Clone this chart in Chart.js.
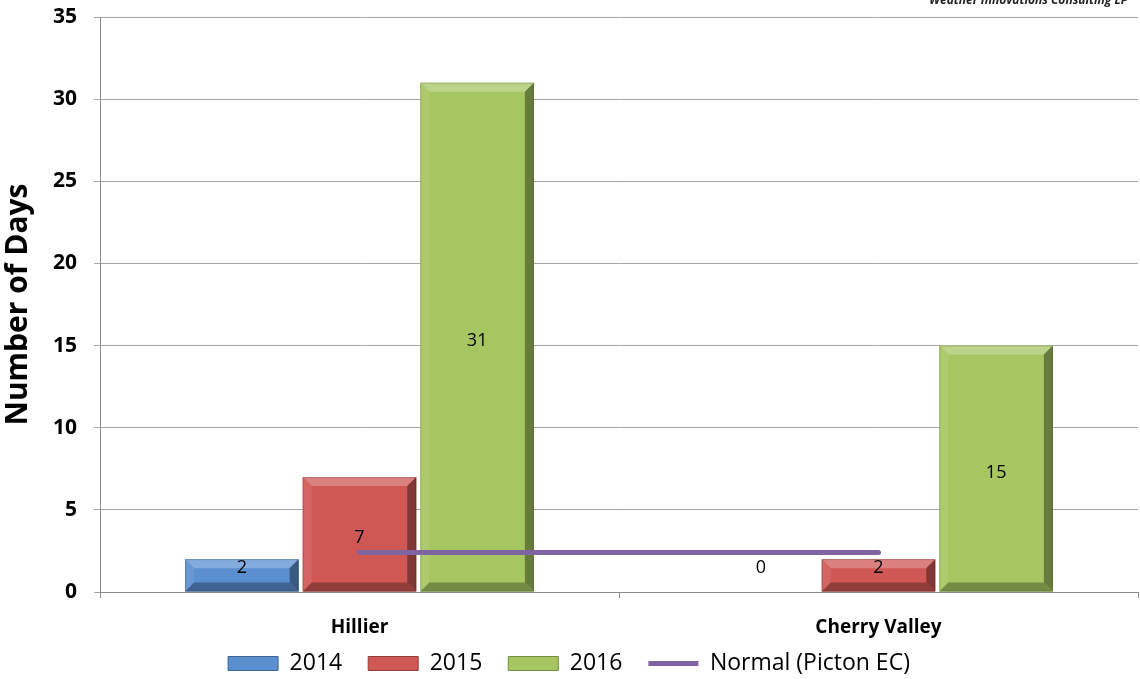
<!DOCTYPE html>
<html>
<head>
<meta charset="utf-8">
<script src="https://cdn.jsdelivr.net/npm/chart.js@4.4.0/dist/chart.umd.min.js"></script>
<style>
  html,body{margin:0;padding:0;background:#fff;}
  #wrap{width:1140px;height:679px;}
</style>
</head>
<body>
<div id="wrap"><canvas id="chart" width="1140" height="679"></canvas></div>
<script>
// data
const stations = ['Hillier', 'Cherry Valley'];
const days2014 = [2, 0];
const days2015 = [7, 2];
const days2016 = [31, 15];
const normalPicton = [2.4, 2.4];
const yTicks = [0, 5, 10, 15, 20, 25, 30, 35];

const FONT = "'Open Sans', 'Liberation Sans', sans-serif";

function shade(hex, amt){
  const n = parseInt(hex.slice(1), 16);
  let r = (n>>16)&255, g = (n>>8)&255, b = n&255;
  const f = c => Math.max(0, Math.min(255, Math.round(amt>0 ? c+(255-c)*amt : c*(1+amt))));
  return 'rgb('+f(r)+','+f(g)+','+f(b)+')';
}

// bevel on each bar, to look like the excel 3d bars
const bevelPlugin = {
  id: 'bevel',
  afterDatasetDraw(chart, args){
    const meta = args.meta;
    if(meta.type !== 'bar') return;
    const ctx = chart.ctx;
    const base = meta._dataset.backgroundColor;
    meta.data.forEach(bar=>{
      const left = bar.x - bar.width/2, right = bar.x + bar.width/2;
      const top = Math.min(bar.y, bar.base), bottom = Math.max(bar.y, bar.base);
      const h = bottom - top;
      if(h < 1) return;
      const s = Math.min(9, h/3);
      ctx.save();
      // top
      ctx.fillStyle = shade(base, 0.25);
      ctx.beginPath(); ctx.moveTo(left, top); ctx.lineTo(right, top); ctx.lineTo(right-s, top+s); ctx.lineTo(left+s, top+s); ctx.closePath(); ctx.fill();
      // left
      ctx.fillStyle = shade(base, 0.08);
      ctx.beginPath(); ctx.moveTo(left, top); ctx.lineTo(left+s, top+s); ctx.lineTo(left+s, bottom-s); ctx.lineTo(left, bottom); ctx.closePath(); ctx.fill();
      // right
      ctx.fillStyle = shade(base, -0.38);
      ctx.beginPath(); ctx.moveTo(right, top); ctx.lineTo(right, bottom); ctx.lineTo(right-s, bottom-s); ctx.lineTo(right-s, top+s); ctx.closePath(); ctx.fill();
      // bottom
      ctx.fillStyle = shade(base, -0.3);
      ctx.beginPath(); ctx.moveTo(left, bottom); ctx.lineTo(right, bottom); ctx.lineTo(right-s, bottom-s); ctx.lineTo(left+s, bottom-s); ctx.closePath(); ctx.fill();
      ctx.strokeStyle = 'rgba(0,0,0,0.15)'; ctx.lineWidth = 1;
      ctx.strokeRect(left+0.5, top+0.5, bar.width-1, h-1);
      ctx.restore();
    });
  }
};

// value labels in the middle of each bar
const labelPlugin = {
  id: 'barLabels',
  afterDatasetsDraw(chart){
    const ctx = chart.ctx;
    ctx.save();
    ctx.font = '18px ' + FONT;
    ctx.fillStyle = '#000';
    ctx.textAlign = 'center';
    ctx.textBaseline = 'middle';
    chart.data.datasets.forEach((ds, i)=>{
      const meta = chart.getDatasetMeta(i);
      if(meta.type !== 'bar') return;
      meta.data.forEach((bar, j)=>{
        const y = Math.min((bar.y + bar.base)/2 + 4, bar.base - 24);
        ctx.fillText(String(ds.data[j]), bar.x, y);
      });
    });
    ctx.restore();
  }
};

const creditPlugin = {
  id: 'credit',
  afterDraw(chart){
    const ctx = chart.ctx;
    ctx.save();
    ctx.font = 'italic bold 12px ' + FONT;
    ctx.fillStyle = '#222';
    ctx.textAlign = 'right';
    ctx.textBaseline = 'alphabetic';
    ctx.fillText('Weather Innovations Consulting LP', 1128, 4);
    ctx.restore();
  }
};

new Chart(document.getElementById('chart').getContext('2d'), {
  type: 'bar',
  data: {
    labels: stations,
    datasets: [
      { type:'line', label:'Normal (Picton EC)', data: normalPicton, borderColor:'#8064a2', backgroundColor:'#8064a2',
        borderWidth:5, borderCapStyle:'round', pointRadius:0, order:0 },
      { label:'2014', data: days2014, backgroundColor:'#5a8fd0', order:1 },
      { label:'2015', data: days2015, backgroundColor:'#cf5855', order:1 },
      { label:'2016', data: days2016, backgroundColor:'#a6c661', order:1 }
    ]
  },
  options: {
    responsive: false,
    animation: false,
    categoryPercentage: 0.68,
    barPercentage: 0.965,
    layout: { padding: { top: 0, right: 2, left: 0, bottom: 0 } },
    plugins: {
      legend: {
        position: 'bottom',
        maxHeight: 53,
        labels: {
          font: { family: FONT, size: 23 },
          color: '#000',
          usePointStyle: true,
          pointStyleWidth: 50,
          boxHeight: 14,
          padding: 26,
          generateLabels(chart){
            const order = [1, 2, 3, 0];
            return order.map(i=>{
              const ds = chart.data.datasets[i];
              const isLine = ds.type === 'line';
              return {
                text: ds.label,
                fillStyle: ds.backgroundColor,
                strokeStyle: isLine ? ds.borderColor : shade(ds.backgroundColor, -0.3),
                lineWidth: isLine ? 5 : 1,
                pointStyle: isLine ? 'line' : 'rect',
                datasetIndex: i,
                hidden: false
              };
            });
          }
        }
      },
      tooltip: { enabled: false }
    },
    scales: {
      x: {
        afterFit(scale){
          scale.height = 34;
          // labels hang below the short box, don't clip them
          scale._computeLabelArea = () => null;
        },
        grid: { display: true, drawOnChartArea: false, offset: true, tickLength: 6, color: '#8c8c8c' },
        border: { color: '#8c8c8c', width: 1 },
        ticks: { font: { family: FONT, size: 19, weight: 'bold' }, color: '#000', padding: 18 }
      },
      y: {
        min: 0, max: 35,
        afterBuildTicks(scale){ scale.ticks = yTicks.map(v=>({ value: v })); },
        afterFit(scale){ scale.width = 100; scale.paddingTop = 17; },
        grid: { color: '#a6a6a6', tickLength: 6, lineWidth: 1 },
        border: { color: '#8c8c8c', width: 1 },
        ticks: { font: { family: FONT, size: 21, weight: 'bold' }, color: '#000', padding: 17 },
        title: { display: true, text: 'Number of Days', font: { family: FONT, size: 30, weight: 'bold' }, color: '#000', padding: 0 }
      }
    }
  },
  plugins: [bevelPlugin, labelPlugin, creditPlugin]
});
</script>
</body>
</html>
